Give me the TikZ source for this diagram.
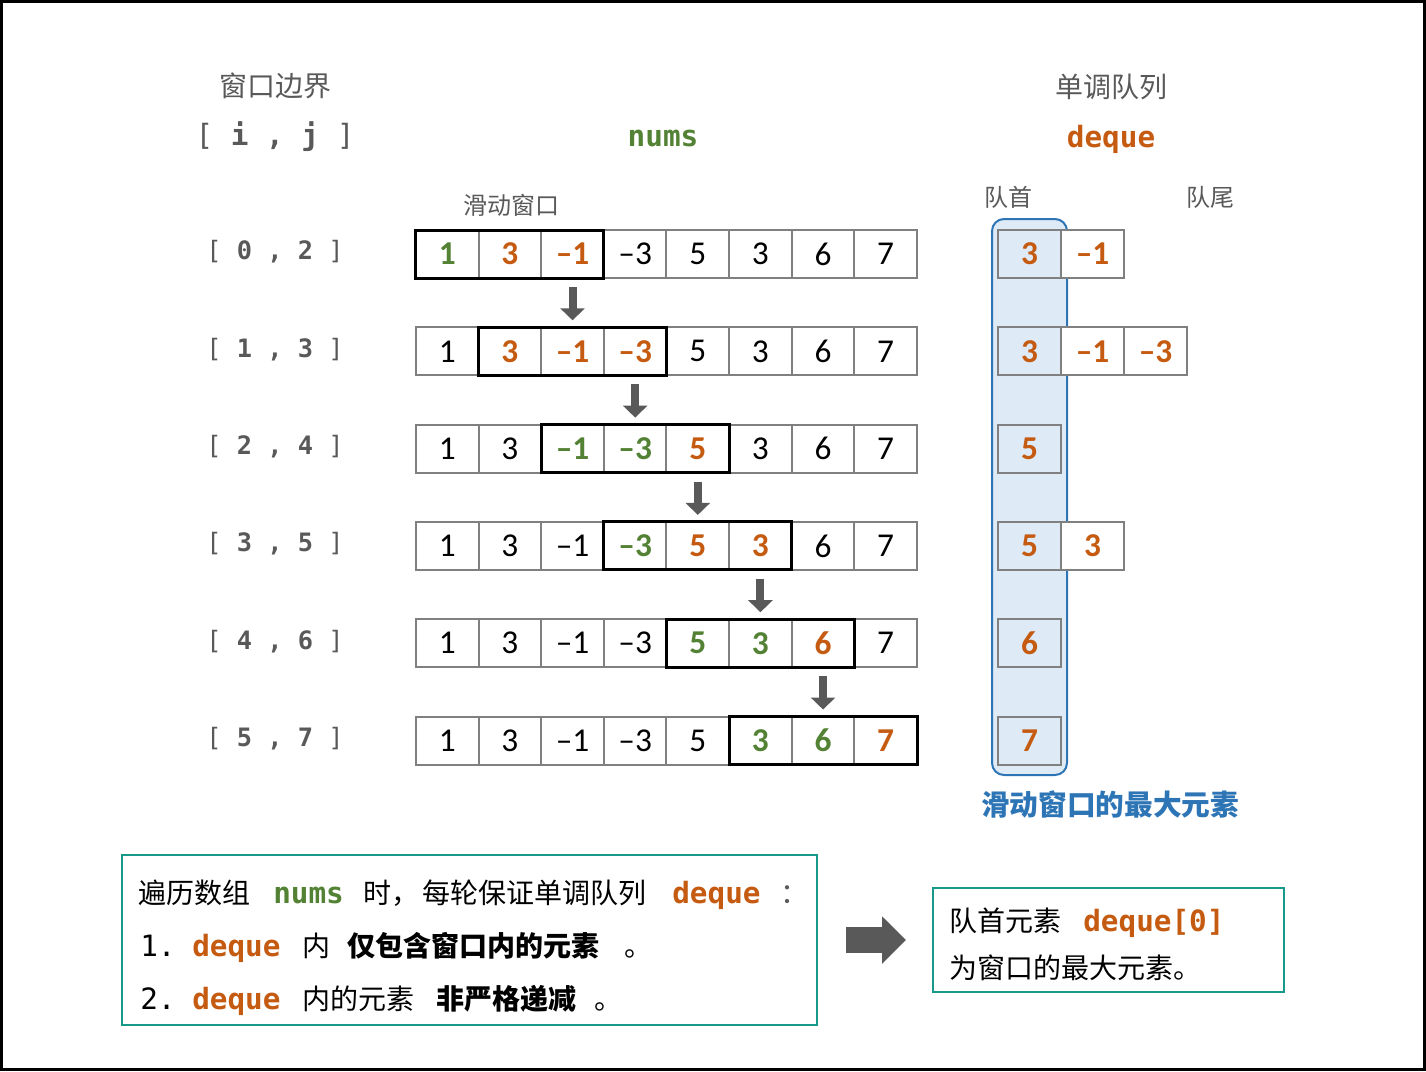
\documentclass[tikz,border=0pt]{standalone}
\usepackage{fontspec}
\usetikzlibrary{arrows.meta,calc}
\newfontfamily\cjk{Noto Sans CJK SC}
\newfontfamily\mono{DejaVu Sans Mono}
\newfontfamily\numf{Carlito}
\definecolor{ora}{HTML}{C55A11}
\definecolor{grn}{HTML}{548235}
\definecolor{txg}{HTML}{595959}
\definecolor{cellg}{HTML}{808080}
\definecolor{tealb}{HTML}{17998A}
\definecolor{blu}{HTML}{2E75B6}
\definecolor{bluf}{HTML}{DEEAF6}
\newcommand\Gn[1]{\textcolor{grn}{\bfseries #1}}
\newcommand\On[1]{\textcolor{ora}{\bfseries #1}}
\begin{document}
\begin{tikzpicture}[x=0.75pt,y=-0.75pt,
  cell/.style={draw=cellg, line width=1.5pt, minimum width=46.97pt, minimum height=36pt,
    inner sep=0pt, outer sep=0pt, font=\numf\fontsize{25}{30}\selectfont},
  cn/.style={cell, fill=white, text=black},
  dq/.style={cell, fill=white, text=ora, font=\numf\bfseries\fontsize{25}{30}\selectfont},
  dq0/.style={dq, fill=none},
  win/.style={draw=black, line width=2.25pt},
  darr/.style={draw=txg, line width=6pt, -{Triangle[width=18pt,length=9pt]}},
  bigarr/.style={draw=txg, line width=20pt, -{Triangle[width=34.5pt,length=18pt]}},
  hdr/.style={text=txg, font=\cjk\fontsize{21}{25}\selectfont, inner sep=0pt},
  sub/.style={text=txg, font=\cjk\fontsize{18}{22}\selectfont, inner sep=0pt},
  lbl/.style={text=txg, font=\mono\fontsize{19}{23}\selectfont, inner sep=0pt},
  box/.style={draw=tealb, line width=1.5pt, inner sep=0pt, outer sep=0pt},
  bt/.style={anchor=base west, inner sep=0pt, font=\cjk\fontsize{21}{25}\selectfont, text=black},
  btb/.style={bt, font=\cjk\bfseries\fontsize{21}{25}\selectfont},
  bm/.style={bt, font=\mono\fontsize{22}{26}\selectfont},
  bmo/.style={bt, text=ora, font=\mono\bfseries\fontsize{22}{26}\selectfont},
  bmg/.style={bt, text=grn, font=\mono\bfseries\fontsize{22}{26}\selectfont},
]
\useasboundingbox (0,0) rectangle (1426,1071);
\draw[line width=2.25pt] (1.5,1.5) rectangle (1424.5,1069.5);

% headers
\node[hdr] (hwin) at (275,86) {窗口边界};
\node[lbl, font=\mono\fontsize{22}{26}\selectfont] (hij) at (275,137) {[ \textbf{i , j} ]};
\node[text=grn, font=\mono\bfseries\fontsize{22}{26}\selectfont, inner sep=0pt] (hnums) at (663,138) {nums};
\node[hdr] (hdq) at (1111,87) {单调队列};
\node[text=ora, font=\mono\bfseries\fontsize{22}{26}\selectfont, inner sep=0pt] (hdeque) at (1111,139) {deque};
\node[sub] (hslide) at (511,205) {滑动窗口};
\node[sub] (hhead) at (1008,197) {队首};
\node[sub] (htail) at (1210,197) {队尾};

% highlight of queue heads
\draw[draw=blu, fill=bluf, line width=1.5pt, rounded corners=9pt] (992,219) rectangle (1067,775);

% nums rows
\foreach \r/\y/\vals in {
  1/254/{\Gn{1},\On{3},\On{–1},–3,5,3,6,7},
  2/351.3/{1,\On{3},\On{–1},\On{–3},5,3,6,7},
  3/448.6/{1,3,\Gn{–1},\Gn{–3},\On{5},3,6,7},
  4/545.9/{1,3,–1,\Gn{–3},\On{5},\On{3},6,7},
  5/643.2/{1,3,–1,–3,\Gn{5},\Gn{3},\On{6},7},
  6/740.5/{1,3,–1,–3,5,\Gn{3},\Gn{6},\On{7}}}{
  \foreach \v [count=\c from 0] in \vals {
    \node[cn] (r\r c\c) at ({447.3+62.625*\c},\y) {\v};
  }
}
\foreach \r/\y/\a/\b in {1/254/0/2,2/351.3/1/3,3/448.6/2/4,4/545.9/3/5,5/643.2/4/6,6/740.5/5/7}{
  \draw[win] (r\r c\a.north west) rectangle (r\r c\b.south east);
  \node[lbl] (lab\r) at (275,{\y-2}) {[ \textbf{\a\ , \b} ]};
}
\foreach \r/\n/\c in {1/2/2,2/3/3,3/4/4,4/5/5,5/6/6}{
  \draw[darr] ($(r\r c\c.south)+(0,9)$) -- ($(r\n c\c.north)+(0,-7)$);
}

% deque rows
\foreach \r/\y/\vals in {
  1/254/{3,–1},
  2/351.3/{3,–1,–3},
  3/448.6/{5},
  4/545.9/{5,3},
  5/643.2/{6},
  6/740.5/{7}}{
  \foreach \v [count=\c from 0] in \vals {
    \ifnum\c=0
      \node[dq0] (d\r c\c) at ({1029.5+63*\c},\y) {\v};
    \else
      \node[dq] (d\r c\c) at ({1029.5+63*\c},\y) {\v};
    \fi
  }
}
\node[text=blu, font=\cjk\bfseries\fontsize{21.5}{26}\selectfont, inner sep=0pt] (maxlbl) at (1110,805) {滑动窗口的最大元素};

% bottom boxes
\node[box, minimum width=521.25pt, minimum height=127.5pt] (box1) at (469.5,940) {};
\node[box, minimum width=263.25pt, minimum height=78pt] (box2) at (1108.5,940) {};
\draw[bigarr] ($(box1.east)+(29,0)$) -- ($(box2.west)+(-27,0)$);

\node[bt] (t11) at (138,903) {遍历数组};
\node[bmg] (t12) at (273,903) {nums};
\node[bt] (t13) at (363,903) {时，};
\node[bt] (t14) at (422,903) {每轮保证单调队列};
\node[bmo] (t15) at (672,903) {deque};
\node[bt, text=txg] (t16) at (780,903) {：};

\node[bm] (t21) at (140,956) {1.};
\node[bmo] (t22) at (192,956) {deque};
\node[bt] (t23) at (302,956) {内};
\node[btb] (t24) at (347,956) {仅包含窗口内的元素};
\node[bt] (t25) at (624,956) {。};

\node[bm] (t31) at (140,1009) {2.};
\node[bmo] (t32) at (192,1009) {deque};
\node[bt] (t33) at (302,1009) {内的元素};
\node[btb] (t34) at (436,1009) {非严格递减};
\node[bt] (t35) at (594,1009) {。};

\node[bt] (u11) at (949,931) {队首元素};
\node[bmo] (u12) at (1083,931) {deque[0]};
\node[bt] (u21) at (949,978) {为窗口的最大元素。};
\end{tikzpicture}
\end{document}
